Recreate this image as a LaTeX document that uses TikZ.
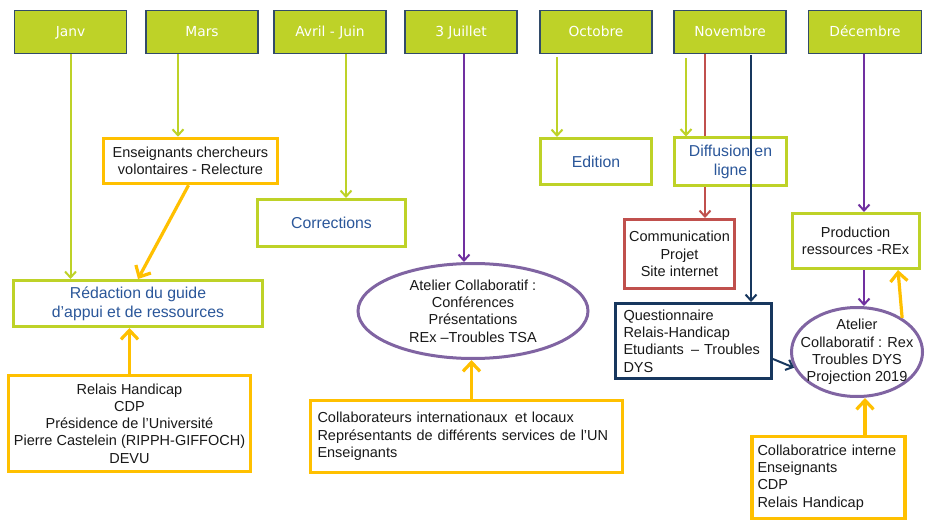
\documentclass[tikz,border=0pt]{standalone}
\usepackage{fontspec}
\setmainfont{Liberation Sans}
\newfontfamily\hfont{DejaVu Sans}
\usetikzlibrary{arrows.meta,shapes.geometric,calc}
\definecolor{lime}{RGB}{190,210,40}
\definecolor{hdrborder}{RGB}{50,75,105}
\definecolor{bluetext}{RGB}{43,87,154}
\definecolor{txt}{RGB}{25,25,25}
\definecolor{orng}{RGB}{255,192,0}
\definecolor{purp}{RGB}{112,48,160}
\definecolor{purpell}{RGB}{128,100,162}
\definecolor{redb}{RGB}{192,80,77}
\definecolor{navy}{RGB}{23,55,94}
\begin{document}
\begin{tikzpicture}[x=1pt,y=-1pt,
  hdr/.style={draw=hdrborder, line width=1.3pt, fill=lime, text=white,
    font=\hfont\fontsize{13.8}{16}\selectfont, minimum width=112pt, minimum height=43pt,
    inner sep=0pt, text height=10pt, text depth=0pt},
  gbox/.style={draw=lime, line width=3pt, fill=white, text=bluetext,
    font=\fontsize{15.8}{19}\selectfont, align=center, inner sep=0pt},
  gboxk/.style={draw=lime, line width=3pt, fill=white, text=txt,
    font=\fontsize{14.5}{17.3}\selectfont, align=center, inner sep=0pt},
  obox/.style={draw=orng, line width=3.5pt, fill=white, text=txt,
    font=\fontsize{14.5}{17.3}\selectfont, inner sep=0pt},
  rbox/.style={draw=redb, line width=3pt, fill=white, text=txt,
    font=\fontsize{14.5}{17.3}\selectfont, align=center, inner sep=0pt},
  nbox/.style={draw=navy, line width=3pt, fill=white, text=txt,
    font=\fontsize{14.5}{17.3}\selectfont, inner sep=0pt},
  ell/.style={ellipse, draw=purpell, line width=3pt, fill=white, inner sep=0pt},
  elltext/.style={text=txt, font=\fontsize{14.5}{17.3}\selectfont, align=center, inner sep=0pt},
  garr/.style={draw=lime, line width=2pt, -{Straight Barb[length=6pt,width=11pt,line width=2pt]}},
  parr/.style={draw=purp, line width=2pt, -{Straight Barb[length=6pt,width=11pt,line width=2pt]}},
  rarr/.style={draw=redb, line width=2pt, -{Straight Barb[length=6pt,width=11pt,line width=2pt]}},
  narr/.style={draw=navy, line width=2pt, -{Straight Barb[length=6pt,width=11pt,line width=2pt]}},
  oarr/.style={draw=orng, line width=3.2pt, -{Straight Barb[length=9pt,width=17pt,line width=3.2pt]}},
]
\useasboundingbox (0,0) rectangle (925,521);
\fill[white] (0,0) rectangle (925,521);

% headers
\node[hdr] (janv) at (70.5,32) {Janv};
\node[hdr] (mars) at (202,32) {Mars};
\node[hdr] (avril) at (330,32) {Avril - Juin};
\node[hdr] (juil) at (461,32) {3 Juillet};
\node[hdr] (oct) at (596,32) {Octobre};
\node[hdr] (nov) at (730,32) {Novembre};
\node[hdr, minimum width=113pt] (dec) at (865,32) {Décembre};

% boxes
\node[gbox, minimum width=249pt, minimum height=46pt] (redac) at (138,303.5)
  {Rédaction du guide\\d’appui et de ressources};
\node[obox, align=center, minimum width=174pt, minimum height=45pt] (ens) at (190.5,161)
  {Enseignants chercheurs\\volontaires - Relecture};
\node[gbox, minimum width=148pt, minimum height=47pt] (corr) at (331.5,223) {Corrections};
\node[gbox, minimum width=111pt, minimum height=46pt] (edit) at (596,161.5) {Edition};
\node[rbox, minimum width=110pt, minimum height=69pt] (comm) at (679.5,254)
  {Communication\\Projet\\Site internet};
\node[gboxk, minimum width=127pt, minimum height=55pt] (prod) at (855.5,241)
  {Production\\ressources -REx};
\node[ell, minimum width=230pt, minimum height=95pt] (at1) at (473,311) {};
\node[elltext] (at1t) at (at1.center)
  {Atelier Collaboratif :\\Conférences\\Présentations\\REx –Troubles TSA};
\node[obox, align=center, minimum width=242pt, minimum height=96pt] (relais) at (129.5,423.5)
  {Relais Handicap\\CDP\\Présidence de l’Université\\Pierre Castelein (RIPPH-GIFFOCH)\\DEVU};
\node[obox, minimum width=312pt, minimum height=72pt, text width=298pt, align=left] (collab) at (466.5,436.5)
  {Collaborateurs internationaux\, et locaux\\Représentants de différents services de l’UN\\Enseignants};
\node[nbox, minimum width=156pt, minimum height=75pt, text width=140pt, align=left] (quest) at (693.5,341)
  {Questionnaire\\Relais-Handicap\\Etudiants\, – Troubles\\DYS};
\node[ell, minimum width=131pt, minimum height=89pt] (at2) at (857,352) {};
\node[elltext] (at2t) at (at2.center)
  {Atelier\\Collaboratif : Rex\\Troubles DYS\\Projection 2019};
\node[obox, minimum width=153pt, minimum height=82pt, text width=142pt, align=left] (collab2) at (828.5,477.5)
  {Collaboratrice interne\\Enseignants\\CDP\\Relais Handicap};

% red line goes behind the Diffusion box
\draw[rarr] ([xshift=-25pt]nov.south) -- ([xshift=-25pt]nov.south |- comm.north);
\node[gbox, minimum width=112pt, minimum height=48pt] (diff) at (730.5,162)
  {Diffusion en\\ligne};

% connectors
\draw[garr] (janv.south) -- (janv.south |- redac.north);
\draw[garr] ([xshift=-24pt]mars.south) -- ([xshift=-24pt]mars.south |- ens.north);
\draw[garr] ([xshift=16pt]avril.south) -- ([xshift=16pt]avril.south |- corr.north);
\draw[parr] ([xshift=3pt]juil.south) -- ([xshift=3pt]juil.south |- at1.north);
\draw[garr, shorten <=3pt] ([xshift=-39pt]oct.south) -- ([xshift=-39pt]oct.south |- edit.north);
\draw[garr, shorten <=4pt] ([xshift=-44pt]nov.south) -- ([xshift=-44pt]nov.south |- diff.north);
\draw[narr, shorten <=1pt] ([xshift=21pt]nov.south) -- ([xshift=21pt]nov.south |- quest.north);
\draw[parr] ([xshift=-1pt]dec.south) -- ([xshift=-1pt]dec.south |- prod.north);
\draw[parr] ([xshift=8.5pt]prod.south) -- ([xshift=8.5pt]prod.south |- at2.north);
\draw[narr] ([yshift=-18pt]quest.east) -- (at2.194);

\draw[oarr] ([xshift=-2pt]ens.south) -- (redac.north);
\draw[oarr] (relais.north) -- (relais.north |- redac.south);
\draw[oarr] ([xshift=5pt]collab.north) -- ([xshift=5pt]collab.north |- at1.south);
\draw[oarr] ([xshift=36.5pt]collab2.north) -- ([xshift=36.5pt]collab2.north |- at2.south);
\draw[oarr] (at2.37) -- ([xshift=42.5pt]prod.south);
\end{tikzpicture}
\end{document}
